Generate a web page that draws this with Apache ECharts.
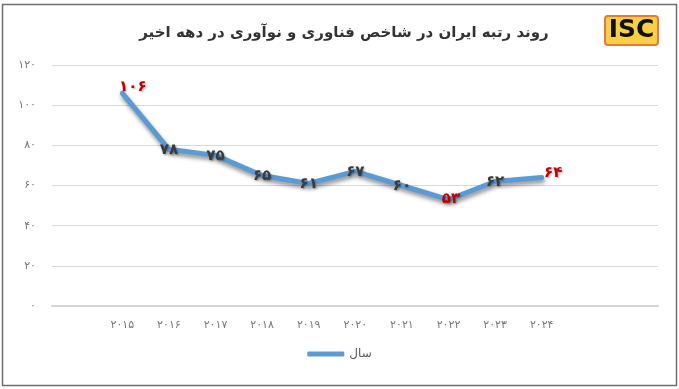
<!DOCTYPE html>
<html><head><meta charset="utf-8">
<script src="https://cdn.jsdelivr.net/npm/echarts@6/dist/echarts.min.js"></script>
<style>html,body{margin:0;padding:0;background:#fff}#c{width:679px;height:389px}</style>
</head><body><div id="c"></div>
<script>
const titleText = 'روند رتبه ایران در شاخص فناوری و نوآوری در دهه اخیر';
const seriesName = 'سال';
const years = [2015, 2016, 2017, 2018, 2019, 2020, 2021, 2022, 2023, 2024];
const ranks = [106, 78, 75, 65, 61, 67, 60, 53, 62, 64];
const yTicks = [0, 20, 40, 60, 80, 100, 120];
const redIdx = [0, 7, 9];

const fa = n => String(n).replace(/[0-9]/g, d => '۰۱۲۳۴۵۶۷۸۹'[d]);
const FONT = '"DejaVu Sans", sans-serif';

const labelPos = i => i === 0 ? [11, -6] : (i === ranks.length - 1 ? [12, -4] : (i === 7 ? [3, 0] : [0.5, 1.5]));
const data = ranks.map((v, i) => ({
  value: v,
  label: {
    color: redIdx.includes(i) ? '#c00000' : '#3b3b3b',
    position: labelPos(i)
  }
}));

const chart = echarts.init(document.getElementById('c'));
chart.setOption({
  backgroundColor: '#fff',
  animation: false,
  title: {
    text: titleText, left: 339, top: 21, textAlign: 'center',
    textStyle: { fontFamily: FONT, fontSize: 15, fontWeight: 'bold', color: '#333' }
  },
  graphic: [
    { type: 'rect', shape: { x: 2.5, y: 4.5, width: 674, height: 381 }, style: { fill: 'none', stroke: '#6e6e6e', lineWidth: 1.5 }, silent: true },
    { type: 'rect', shape: { x: 605, y: 16, width: 53, height: 29, r: 3 }, style: { fill: '#f8cf45', stroke: '#e67a2e', lineWidth: 2 } },
    { type: 'text', x: 631.5, y: 31, scaleX: 1.15, style: { text: 'ISC', fill: '#111', font: '900 24px "Liberation Sans Narrow", "DejaVu Sans Condensed", sans-serif', align: 'center', verticalAlign: 'middle' } }
  ],
  legend: {
    bottom: 24, left: 'center',
    icon: 'roundRect', itemWidth: 37, itemHeight: 5, itemGap: 4,
    textStyle: { fontFamily: FONT, fontSize: 12, color: '#595959' },
    data: [seriesName]
  },
  grid: [
    { left: 52, right: 21, top: 65, bottom: 83 },
    { left: 99, right: 114, top: 65, bottom: 83 }
  ],
  xAxis: [
    { gridIndex: 0, type: 'category', data: years, show: true,
      axisLine: { show: true, lineStyle: { color: '#d4d4d4', width: 2 } },
      axisTick: { show: false }, axisLabel: { show: false } },
    { gridIndex: 1, type: 'category', data: years.map(String), boundaryGap: true,
      axisLine: { show: false }, axisTick: { show: false },
      axisLabel: { formatter: v => fa(v), fontFamily: FONT, fontSize: 11, color: '#777', margin: 14 } }
  ],
  yAxis: [
    { gridIndex: 0, type: 'value', min: 0, max: 120, interval: 20,
      axisLine: { show: false }, axisTick: { show: false },
      splitLine: { lineStyle: { color: '#d9d9d9', width: 1 } },
      axisLabel: { formatter: v => fa(v), fontFamily: FONT, fontSize: 11, color: '#777', margin: 16 } },
    { gridIndex: 1, type: 'value', min: 0, max: 120, interval: 20, show: false }
  ],
  series: [{
    name: seriesName, type: 'line', xAxisIndex: 1, yAxisIndex: 1,
    data: data, showSymbol: true, symbol: 'circle', symbolSize: 1,
    lineStyle: { color: '#5b9bd5', width: 5, shadowColor: 'rgba(0,0,0,0.45)', shadowBlur: 4, shadowOffsetX: 1, shadowOffsetY: 3, cap: 'round', join: 'round' },
    itemStyle: { color: '#5b9bd5' },
    labelLayout: { hideOverlap: false },
    label: {
      show: true, formatter: p => fa(p.value), align: 'center', verticalAlign: 'middle',
      fontFamily: FONT, fontSize: 15, fontWeight: 'bold',
      textShadowColor: 'rgba(0,0,0,0.35)', textShadowBlur: 2, textShadowOffsetX: 1, textShadowOffsetY: 1
    }
  }]
});
</script></body></html>
